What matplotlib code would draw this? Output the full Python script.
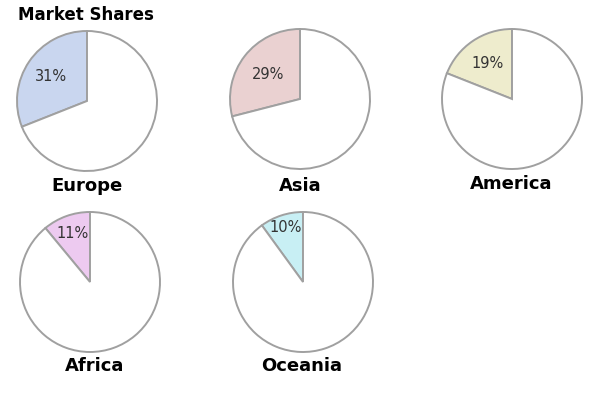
import matplotlib.pyplot as plt

# Market share per region
regions = ['Europe', 'Asia', 'America', 'Africa', 'Oceania']
shares = [31, 29, 19, 11, 10]
colors = ['#c9d6ef', '#ead1d1', '#eeeccd', '#edcaf0', '#c8eff4']

# pie centres in pixels (from top-left), label positions, percent-label distance
centers = [(87, 101), (300, 99), (512, 99), (90, 282), (303, 282)]
label_pos = [(87, 186), (300, 186), (511, 184), (95, 366), (302, 366)]
pct_dist = [0.62, 0.57, 0.62, 0.74, 0.82]
radius = 70

W, H = 600, 400
fig = plt.figure(figsize=(6, 4), dpi=100)
fig.patch.set_facecolor('white')

lim = 1.05
half = radius * lim
for name, share, color, (cx, cy), (lx, ly), pd_ in zip(regions, shares, colors,
                                                     centers, label_pos, pct_dist):
    ax = fig.add_axes([(cx - half) / W, 1 - (cy + half) / H, 2 * half / W, 2 * half / H])
    ax.pie([share, 100 - share], colors=[color, 'white'], startangle=90,
           counterclock=True,
           autopct=lambda p, s=share: f'{p:.0f}%' if abs(p - s) < 0.5 else '',
           pctdistance=pd_,
           wedgeprops=dict(edgecolor='#a0a0a0', linewidth=1.4),
           textprops=dict(fontsize=10.5, color='#333333'))
    ax.set_xlim(-lim, lim)
    ax.set_ylim(-lim, lim)
    ax.set_aspect('equal')
    ax.axis('off')
    fig.text(lx / W, 1 - ly / H, name, ha='center', va='center',
             fontsize=13, fontweight='bold', color='black')

fig.text(18 / W, 1 - 15 / H, 'Market Shares', ha='left', va='center',
         fontsize=12, fontweight='bold', color='black')

plt.savefig('out.png', dpi=100)
